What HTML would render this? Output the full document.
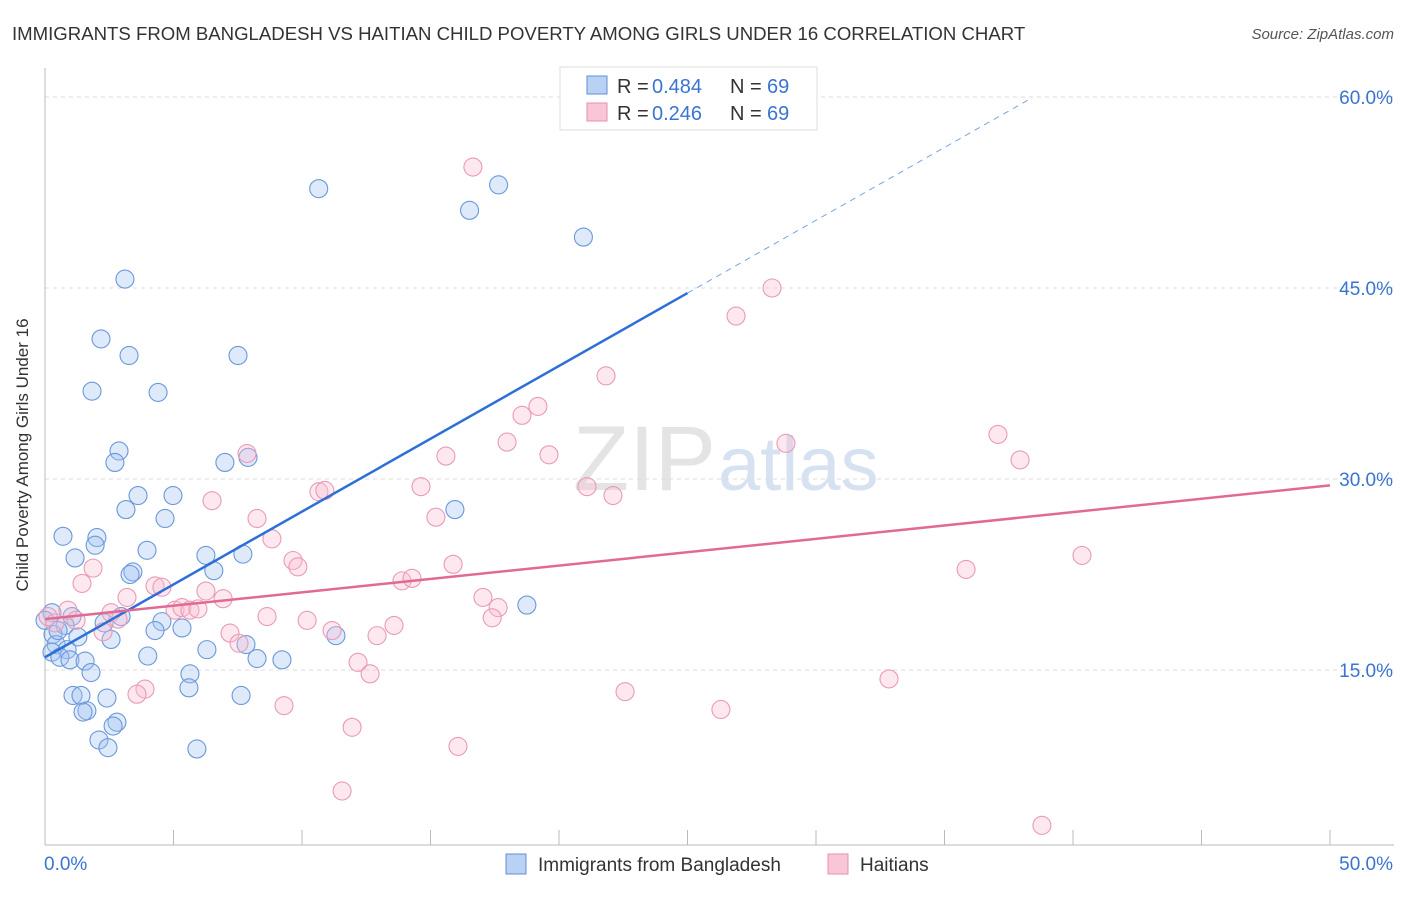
<!DOCTYPE html>
<html><head><meta charset="utf-8"><style>
body{margin:0;background:#fff;font-family:"Liberation Sans",sans-serif}
svg text{font-family:"Liberation Sans",sans-serif}
</style></head><body>
<svg id="c" width="1406" height="892">
<text x="12" y="40" font-size="18.6" fill="#333">IMMIGRANTS FROM BANGLADESH VS HAITIAN CHILD POVERTY AMONG GIRLS UNDER 16 CORRELATION CHART</text>
<text x="1394" y="39" font-size="15" fill="#555" font-style="italic" text-anchor="end">Source: ZipAtlas.com</text>
<text x="716" y="490" font-size="92" fill="#e4e4e4" text-anchor="end" font-family="Liberation Serif">ZIP</text>
<text x="718" y="490" font-size="76" fill="#d6e2f2">atlas</text>
<g id="grid"></g><g id="axes"></g><g id="pts"></g><g id="lines"></g>
<text x="28" y="455" font-size="17" fill="#333" transform="rotate(-90 28 455)" text-anchor="middle">Child Poverty Among Girls Under 16</text>
<g>
<rect x="560" y="67" width="257" height="63" fill="#fff" stroke="#ddd"/>
<rect x="587" y="76" width="20" height="18" fill="#b9d1f3" stroke="#5d8fd6"/>
<rect x="587" y="103" width="20" height="18" fill="#f8c6d6" stroke="#e690ae"/>
<text x="617" y="93" font-size="20" fill="#333">R =</text><text x="652" y="93" font-size="20" fill="#3a74d1">0.484</text>
<text x="730" y="93" font-size="20" fill="#333">N =</text><text x="767" y="93" font-size="20" fill="#3a74d1">69</text>
<text x="617" y="120" font-size="20" fill="#333">R =</text><text x="652" y="120" font-size="20" fill="#3a74d1">0.246</text>
<text x="730" y="120" font-size="20" fill="#333">N =</text><text x="767" y="120" font-size="20" fill="#3a74d1">69</text>
</g>
<g>
<rect x="506" y="854" width="20" height="20" fill="#b9d1f3" stroke="#5d8fd6"/>
<text x="538" y="871" font-size="19" fill="#333">Immigrants from Bangladesh</text>
<rect x="828" y="854" width="20" height="20" fill="#f8c6d6" stroke="#e690ae"/>
<text x="860" y="871" font-size="19" fill="#333">Haitians</text>
</g>
</svg>
<script>
const yTicks=[15,30,45,60];
const yTickLabels=["15.0%","30.0%","45.0%","60.0%"];
const xTickLabels=["0.0%","50.0%"];
const blueX=[10.65,17.65,16.52,20.95,3.11,2.18,3.27,7.51,1.83,4.4,2.88,2.72,7.0,7.9,3.62,4.98,3.15,4.67,15.95,0.7,2.02,1.95,3.97,1.17,6.26,7.7,3.42,3.31,6.57,18.75,0.27,1.05,2.96,0.78,4.55,5.33,4.28,2.3,1.28,2.57,0.31,0.43,11.32,0.86,6.3,7.82,0.27,0.58,0.97,1.56,4.0,8.25,9.22,1.79,5.64,1.09,1.4,5.6,2.41,7.63,1.63,1.48,2.8,2.65,2.1,2.45,5.91,0.0,0.51];
const blueY=[52.8,53.1,51.1,49.0,45.7,41.0,39.7,39.7,36.9,36.8,32.2,31.3,31.3,31.7,28.7,28.7,27.6,26.9,27.6,25.5,25.4,24.8,24.4,23.8,24.0,24.1,22.7,22.5,22.8,20.1,19.5,19.2,19.2,18.5,18.8,18.3,18.1,18.7,17.6,17.4,17.8,17.0,17.7,16.6,16.6,17.0,16.4,16.0,15.8,15.7,16.1,15.9,15.8,14.8,14.7,13.0,13.0,13.6,12.8,13.0,11.8,11.7,10.9,10.6,9.5,8.9,8.8,18.9,18.1];
const pinkX=[16.65,28.29,26.89,21.83,19.18,18.56,17.98,28.83,37.08,15.6,19.61,37.94,7.86,14.63,21.09,22.1,10.66,10.89,6.5,15.21,8.25,8.83,40.35,9.65,9.84,15.88,35.84,1.87,1.44,13.89,14.28,4.28,4.55,6.26,6.93,3.19,17.04,17.63,5.06,5.33,5.64,5.95,0.89,2.57,8.64,17.4,10.2,0.12,0.39,2.84,1.21,13.58,11.17,7.2,7.55,12.92,2.26,12.18,12.65,32.84,22.57,3.89,3.58,9.3,26.3,11.95,16.07,11.56,38.79];
const pinkY=[54.5,45.0,42.8,38.1,35.7,35.0,32.9,32.8,33.5,31.8,31.9,31.5,32.0,29.4,29.4,28.7,29.0,29.1,28.3,27.0,26.9,25.3,24.0,23.6,23.1,23.3,22.9,23.0,21.8,22.0,22.2,21.6,21.5,21.2,20.6,20.7,20.7,19.9,19.7,19.9,19.7,19.8,19.7,19.5,19.2,19.1,18.9,19.2,18.7,19.0,18.9,18.5,18.1,17.9,17.1,17.7,18.0,15.6,14.7,14.3,13.3,13.5,13.1,12.2,11.9,10.5,9.0,5.5,2.8];
const blueFit=[16.0,44.6];const pinkFit=[19.0,29.5];
const X=v=>45+v/50*1285, Y=v=>861-v/15*191;
const NS="http://www.w3.org/2000/svg";
function mk(p,t,a){const e=document.createElementNS(NS,t);for(const k in a)e.setAttribute(k,a[k]);document.getElementById(p).appendChild(e);return e;}
yTicks.forEach((t,i)=>{
 const l=mk('grid','line',{x1:45,x2:1394,y1:Y(t),y2:Y(t),stroke:'#ddd','stroke-dasharray':'4,4'});
 
 
 const tx=mk('axes','text',{x:1393,y:Y(t)+7,'font-size':19,fill:'#3a74d1','text-anchor':'end'});
 tx.textContent=yTickLabels[i];
 
 
});
let a=mk('axes','line',{x1:45,x2:45,y1:68,y2:845,stroke:'#bbb'});

a=mk('axes','line',{x1:45,x2:1394,y1:845,y2:845,stroke:'#bbb'});

for(let i=0;i<=10;i++){const t=mk('axes','line',{x1:X(i*5),x2:X(i*5),y1:830,y2:845,stroke:'#bbb'});
 }
[[X(0)-1,'start'],[X(50)+63,'end']].forEach((p,i)=>{const t=mk('axes','text',{x:p[0],y:870,'font-size':19,fill:'#3a74d1','text-anchor':p[1]});
 t.textContent=xTickLabels[i];});
blueX.forEach((x,i)=>{const c=mk('pts','circle',{cx:X(x),cy:Y(blueY[i]),r:9,fill:'rgba(160,196,240,0.35)',stroke:'#6a98da','stroke-width':1.1});
 });
pinkX.forEach((x,i)=>{const c=mk('pts','circle',{cx:X(x),cy:Y(pinkY[i]),r:9,fill:'rgba(248,190,210,0.35)',stroke:'#e99ab5','stroke-width':1.1});
 });
const bs=(blueFit[1]-blueFit[0])/25;
let l=mk('lines','line',{x1:X(0),y1:Y(blueFit[0]),x2:X(25),y2:Y(blueFit[1]),stroke:'#2d6fd6','stroke-width':2.5});

l=mk('lines','line',{x1:X(25),y1:Y(blueFit[1]),x2:X(38.3),y2:Y(blueFit[0]+bs*38.3),stroke:'#7aa3e0','stroke-width':1,'stroke-dasharray':'6,5'});

l=mk('lines','line',{x1:X(0),y1:Y(pinkFit[0]),x2:X(50),y2:Y(pinkFit[1]),stroke:'#e06a94','stroke-width':2.5});

</script>
</body></html>
